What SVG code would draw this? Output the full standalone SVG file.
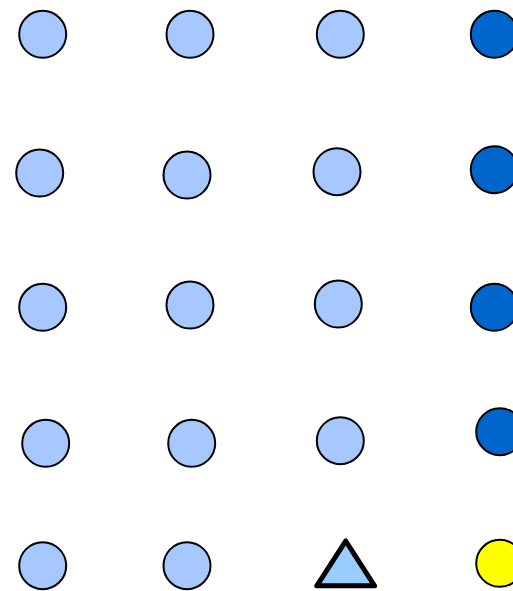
<svg xmlns="http://www.w3.org/2000/svg" width="513" height="591" viewBox="0 0 513 591">
<style>
.n{fill:#a6c8ff;stroke:#000;stroke-width:2}
.d{fill:#0066cc;stroke:#000;stroke-width:2}
.y{fill:#ffff00;stroke:#000;stroke-width:2}
.t{fill:#99ccff;stroke:#000;stroke-width:5;stroke-linejoin:round}
</style>
<rect width="513" height="591" fill="#fff"/>
<g id="connectors"/>
<g id="n1"><circle class="n" cx="42.7" cy="34.3" r="23.5"/></g>
<g id="n2"><circle class="n" cx="190" cy="34.3" r="23.5"/></g>
<g id="n3"><circle class="n" cx="340.3" cy="34.3" r="23.5"/></g>
<g id="n4"><circle class="d" cx="494.3" cy="34.3" r="23.5"/></g>
<g id="n5"><circle class="n" cx="39.7" cy="173" r="23.5"/></g>
<g id="n6"><circle class="n" cx="187" cy="175" r="23.5"/></g>
<g id="n7"><circle class="n" cx="337" cy="171.7" r="23.5"/></g>
<g id="n8"><circle class="d" cx="494.3" cy="169.7" r="23.5"/></g>
<g id="n9"><circle class="n" cx="42.7" cy="307.3" r="23.5"/></g>
<g id="n10"><circle class="n" cx="190" cy="305" r="23.5"/></g>
<g id="n11"><circle class="n" cx="338.3" cy="304" r="23.5"/></g>
<g id="n12"><circle class="d" cx="494.3" cy="307.3" r="23.5"/></g>
<g id="n13"><circle class="n" cx="45.7" cy="443.3" r="23.5"/></g>
<g id="n14"><circle class="n" cx="191.7" cy="443.3" r="23.5"/></g>
<g id="n15"><circle class="n" cx="340.3" cy="440.7" r="23.5"/></g>
<g id="n16"><circle class="d" cx="499.7" cy="431.7" r="23.5"/></g>
<g id="n17"><circle class="n" cx="42.7" cy="565.7" r="23.5"/></g>
<g id="n18"><circle class="n" cx="187" cy="565.7" r="23.5"/></g>
<g id="n19"><polygon class="t" points="345.7,541 316.8,585.8 374.6,585.8"/></g>
<g id="n20"><circle class="y" cx="499.7" cy="563.3" r="23.5"/></g>
</svg>
